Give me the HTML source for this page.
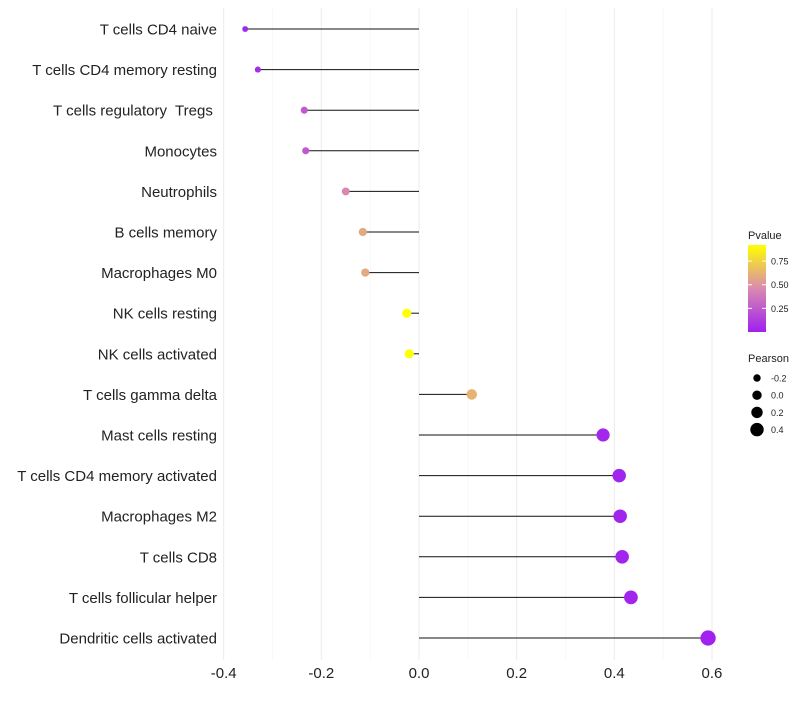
<!DOCTYPE html>
<html><head><meta charset="utf-8"><style>
body{margin:0;background:#fff;font-family:"Liberation Sans",sans-serif}
text{white-space:pre}
</style></head><body>
<svg id="c" width="800" height="700" xmlns="http://www.w3.org/2000/svg"></svg>
<script>
const categories=["T cells CD4 naive","T cells CD4 memory resting","T cells regulatory  Tregs ","Monocytes","Neutrophils","B cells memory","Macrophages M0","NK cells resting","NK cells activated","T cells gamma delta","Mast cells resting","T cells CD4 memory activated","Macrophages M2","T cells CD8","T cells follicular helper","Dendritic cells activated"];
const pearson=[-0.356,-0.33,-0.235,-0.232,-0.15,-0.115,-0.11,-0.025,-0.02,0.108,0.377,0.41,0.412,0.416,0.434,0.592];
const pvalue=[0.03,0.06,0.25,0.25,0.45,0.58,0.58,0.93,0.93,0.62,0.03,0.02,0.02,0.02,0.02,0.01];
const xTicks=[-0.4,-0.2,0,0.2,0.4,0.6];
const xMinor=[-0.3,-0.1,0.1,0.3,0.5];
const colorTicks=[0.25,0.5,0.75];
const sizeTicks=[-0.2,0,0.2,0.4];
const svg=document.getElementById('c');const NS="http://www.w3.org/2000/svg";
function mk(t,a,p){const e=document.createElementNS(NS,t);for(const k in a)e.setAttribute(k,a[k]);(p||svg).appendChild(e);return e;}
const x=v=>419+v*488.3;
const y=i=>29+i*40.6;
const r=v=>4.7+5*v;
function col(p){const t=Math.max(0,Math.min(1,p/0.92));
 const a=[160,32,240],m=[217,138,176],b=[255,255,0];let c;
 if(t<0.5){const s=t/0.5;c=a.map((v,k)=>v+(m[k]-v)*s);}else{const s=(t-0.5)/0.5;c=m.map((v,k)=>v+(b[k]-v)*s);}
 return `rgb(${c.map(Math.round).join(',')})`;}
xMinor.forEach(v=>{const l=mk('line',{x1:x(v),x2:x(v),y1:8,y2:660,stroke:'#f4f4f4','stroke-width':0.6});
});
xTicks.forEach(v=>{const l=mk('line',{x1:x(v),x2:x(v),y1:8,y2:660,stroke:'#ebebeb','stroke-width':1});

const t=mk('text',{x:x(v),y:678,'text-anchor':'middle','font-size':15,fill:'#222'});t.textContent=(v===0?'0.0':v.toFixed(1));
});
categories.forEach((c,i)=>{const l=mk('line',{x1:x(0),x2:x(pearson[i]),y1:y(i),y2:y(i),stroke:'#111','stroke-width':1});

const d=mk('circle',{cx:x(pearson[i]),cy:y(i),r:r(pearson[i]),fill:col(pvalue[i])});

const t=mk('text',{x:217,y:y(i)+5.5,'text-anchor':'end','font-size':15,fill:'#222'});t.textContent=c;
});
const lt=mk('text',{x:748,y:239,'font-size':11,fill:'#222'});lt.textContent='Pvalue';

const defs=mk('defs',{});const g=mk('linearGradient',{id:'gr',x1:0,y1:1,x2:0,y2:0},defs);
for(let k=0;k<=10;k++)mk('stop',{offset:k/10,'stop-color':col(k/10*0.92)},g);
const cb=mk('rect',{x:748,y:245,width:18,height:87,fill:'url(#gr)'});

const cy=p=>332-p/0.92*87;
colorTicks.forEach(p=>{mk('line',{x1:748,x2:752,y1:cy(p),y2:cy(p),stroke:'#fff'});mk('line',{x1:762,x2:766,y1:cy(p),y2:cy(p),stroke:'#fff'});
const t=mk('text',{x:771,y:cy(p)+3.5,'font-size':9,fill:'#222'});t.textContent=p.toFixed(2);
});
const st=mk('text',{x:748,y:362,'font-size':11,fill:'#222'});st.textContent='Pearson';

sizeTicks.forEach((v,k)=>{const yy=378+k*17.2;const d=mk('circle',{cx:757,cy:yy,r:r(v),fill:'#000'});

const t=mk('text',{x:771,y:yy+3.5,'font-size':9,fill:'#222'});t.textContent=v===0?'0.0':String(v);
});
</script></body></html>
